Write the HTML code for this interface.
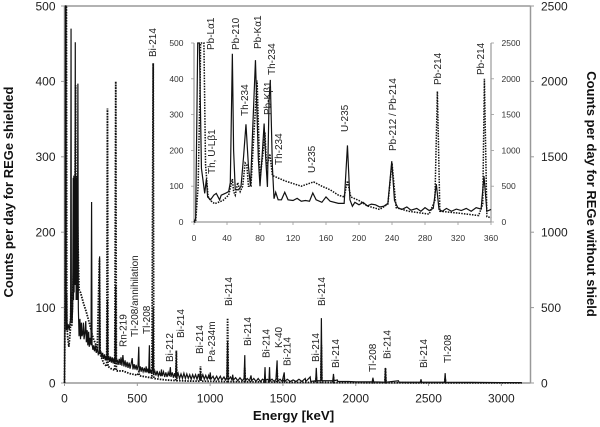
<!DOCTYPE html>
<html>
<head>
<meta charset="utf-8">
<title>Gamma spectrum</title>
<style>
html,body{margin:0;padding:0;background:#fff;}
svg{display:block;font-family:"Liberation Sans",Arial,sans-serif;}
.peak{font-size:10px;fill:#222;text-anchor:start;}
</style>
</head>
<body>
<svg id="chart" xmlns="http://www.w3.org/2000/svg" width="600" height="427" viewBox="0 0 600 427">
<rect width="600" height="427" fill="#fff"/>
<g id="axes"></g>
<g id="series"></g>
<g id="tick-text"></g>

<text transform="translate(13,192) rotate(-90)" text-anchor="middle" font-size="13" font-weight="bold" fill="#111">Counts per day for REGe shielded</text>
<text transform="translate(587,194) rotate(90)" text-anchor="middle" font-size="13" font-weight="bold" fill="#111">Counts per day for REGe without shield</text>
<text x="293.5" y="420" text-anchor="middle" font-size="13.3" font-weight="bold" fill="#111">Energy [keV]</text>

<g>
<text class="peak" transform="translate(156,57) rotate(-90)">Bi-214</text>
<text class="peak" transform="translate(126.5,347) rotate(-90)">Rn-219</text>
<text class="peak" transform="translate(138,337) rotate(-90)">Tl-208/annihilation</text>
<text class="peak" transform="translate(150,334) rotate(-90)">Tl-208</text>
<text class="peak" transform="translate(173,362) rotate(-90)">Bi-212</text>
<text class="peak" transform="translate(184,338) rotate(-90)">Bi-214</text>
<text class="peak" transform="translate(203,354) rotate(-90)">Bi-214</text>
<text class="peak" transform="translate(215,362) rotate(-90)">Pa-234m</text>
<text class="peak" transform="translate(232,306) rotate(-90)">Bi-214</text>
<text class="peak" transform="translate(251,346) rotate(-90)">Bi-214</text>
<text class="peak" transform="translate(269.5,358) rotate(-90)">Bi-214</text>
<text class="peak" transform="translate(282,348) rotate(-90)">K-40</text>
<text class="peak" transform="translate(290.5,366) rotate(-90)">Bi-214</text>
<text class="peak" transform="translate(319,362) rotate(-90)">Bi-214</text>
<text class="peak" transform="translate(325,306) rotate(-90)">Bi-214</text>
<text class="peak" transform="translate(339,368) rotate(-90)">Bi-214</text>
<text class="peak" transform="translate(376,372) rotate(-90)">Tl-208</text>
<text class="peak" transform="translate(390.5,359) rotate(-90)">Bi-214</text>
<text class="peak" transform="translate(427,368) rotate(-90)">Bi-214</text>
<text class="peak" transform="translate(451,363) rotate(-90)">Tl-208</text>
</g>

<g>
<text class="peak" transform="translate(214,50) rotate(-90)">Pb-Lα1</text>
<text class="peak" transform="translate(215,174) rotate(-90)">Th, U-Lβ1</text>
<text class="peak" transform="translate(239,50) rotate(-90)">Pb-210</text>
<text class="peak" transform="translate(248,116) rotate(-90)">Th-234</text>
<text class="peak" transform="translate(261,49) rotate(-90)">Pb-Kα1</text>
<text class="peak" transform="translate(271,115) rotate(-90)">Pb-Kβ1</text>
<text class="peak" transform="translate(275,75) rotate(-90)">Th-234</text>
<text class="peak" transform="translate(282,165) rotate(-90)">Th-234</text>
<text class="peak" transform="translate(315,173) rotate(-90)">U-235</text>
<text class="peak" transform="translate(348,132) rotate(-90)">U-235</text>
<text class="peak" transform="translate(396,151) rotate(-90)">Pb-212 / Pb-214</text>
<text class="peak" transform="translate(441,85) rotate(-90)">Pb-214</text>
<text class="peak" transform="translate(484,75) rotate(-90)">Pb-214</text>
</g>
</svg>

<script>
// ---- tick labels ----
var mainXTicks = [0, 500, 1000, 1500, 2000, 2500, 3000];
var mainLeftTicks = [0, 100, 200, 300, 400, 500];
var mainRightTicks = [0, 500, 1000, 1500, 2000, 2500];
var insetXTicks = [0, 40, 80, 120, 160, 200, 240, 280, 320, 360];
var insetLeftTicks = [0, 100, 200, 300, 400, 500];
var insetRightTicks = [0, 500, 1000, 1500, 2000, 2500];

// ---- main panel, shielded detector (left axis) ----
var mainShieldedEnergy = [
0,4,6,10,12,15,18,25,32,38,
42,45,47,52,56,60,62,64,66,68,
70,72,74,76,78,80,82,84,85,88,
90,92,95,100,106,110,116,120,126,130,
134,140,146,150,156,160,166,170,175,182,
186,189,195,200,206,212,218,225,232,238,
241,244,250,256,262,268,275,280,286,291,
295,298,304,310,316,322,328,334,340,346,
352,355,362,368,376,382,388,394,401,408,
416,422,430,436,444,450,458,465,470,478,
484,492,498,505,510,513,520,526,533,540,
548,554,561,565,572,578,583,586,592,598,
604,609,612,620,628,636,644,652,660,666,
670,680,688,696,704,712,720,727,731,740,
748,756,762,768,771,780,790,800,810,820,
830,840,850,860,870,880,890,900,910,920,
928,934,938,950,960,970,980,990,996,1001,
1005,1020,1030,1045,1055,1070,1080,1095,1105,1115,
1120,1124,1140,1150,1155,1160,1175,1190,1205,1220,
1233,1238,1241,1255,1270,1281,1285,1300,1315,1330,
1345,1360,1373,1377,1380,1392,1404,1408,1411,1425,
1440,1452,1460,1463,1480,1495,1509,1512,1530,1550,
1570,1590,1610,1630,1653,1657,1687,1691,1725,1729,
1733,1760,1764,1768,1843,1847,1851,1873,1877,1950,
2000,2050,2114,2118,2122,2200,2204,2208,2293,2297,
2444,2448,2452,2610,2614,2618,2800,3000,3140
];
var mainShieldedCounts = [
0,100,500,500,70,120,70,78,70,80,
85,470,90,80,100,272,110,275,120,270,
130,200,452,130,272,110,268,150,275,110,
250,397,100,62,85,58,80,62,66,80,
58,66,82,54,70,50,68,48,60,50,
240,52,44,50,42,50,40,46,38,40,
168,38,42,34,40,32,38,30,36,30,
110,30,36,28,35,27,34,26,33,26,
130,27,31,24,32,24,34,23,37,22,
30,21,28,20,27,19,26,33,18,25,
18,24,17,23,48,16,22,15,21,15,
20,14,22,14,19,13,50,13,18,12,
17,100,12,16,10,16,9,14,9,18,
9,15,8,14,8,14,9,21,8,14,
7,13,8,30,7,13,6,12,6,13,
6,12,6,11,5,11,6,11,5,12,
5,14,5,11,5,10,5,10,5,14,
5,9,4,9,4,9,4,8,4,8,
55,4,8,4,11,4,7,3,7,3,
6,37,3,6,3,10,3,6,2,6,
2,5,3,21,3,5,3,21,3,5,
2,5,30,2,5,2,14,2,5,2,
4,2,5,2,6,2,8,2,3,20,
3,3,86,3,3,12,3,4,2,2,
1.5,1.5,1.5,7,1.5,1,20,1,3,1,
1,5,1,1,13,1,0.8,0.6,0.5
];

// ---- main panel, unshielded detector (right axis) ----
var mainBareEnergy = [
0,4,8,10,13,16,22,30,40,46,
50,60,64,70,76,80,86,92,100,110,
130,150,170,190,200,225,240,245,270,290,
295,299,320,345,352,356,400,450,500,511,
515,550,600,609,613,660,700,764,768,772,
850,930,934,938,1000,1116,1120,1125,1234,1238,
1242,1373,1377,1381,1404,1408,1412,1456,1460,1464,
1505,1509,1513,1600,1725,1729,1733,1760,1764,1768,
1843,1847,1851,2114,2118,2122,2200,2204,2208,2444,
2448,2452,2610,2614,2618,3140
];
var mainBareCounts = [
0,500,1500,2500,2500,400,300,240,350,600,
375,700,820,800,1975,650,1250,950,620,600,
530,470,400,320,290,230,825,190,130,110,
1820,110,95,85,2000,80,80,62,52,75,
48,42,34,2120,30,24,20,16,215,16,
13,12,110,12,11,9,430,9,8,100,
8,7,40,7,7,35,7,5,90,5,
5,30,5,4,4,40,4,4,250,4,
3,40,3,2,25,2,2,100,2,1,
15,1,1,30,1,1
];

// ---- inset, shielded detector (left axis) ----
var insetShieldedEnergy = [
0,2,3.5,4.5,6.5,9,13,15,16.5,20,
24,27,31,33,38,42,44,46.5,48,50,
54,57,60,63,66,68.5,71,74.5,78,80,
83,85,87,89,91,92.5,95,97,99,102,
106,110,114,120,125,130,135,140,144,148,
155,160,165,175,182,186,189,192,195,200,
205,210,215,220,225,230,235,239.7,243,247,
252,258,263,270,275,280,285,290,293.7,297,
301,306,312,318,324,330,336,342,348,351.5,
355,360
];
var insetShieldedCounts = [
0,10,300,500,500,150,80,120,70,62,
75,80,62,75,80,85,110,470,200,90,
90,100,180,273,155,100,250,452,175,100,
200,275,175,98,340,397,155,65,83,62,
62,83,62,60,66,58,60,58,81,62,
55,70,58,52,52,214,62,44,55,48,
55,45,50,48,42,44,52,170,60,40,
35,42,33,38,30,40,32,38,106,35,
30,38,30,36,32,38,30,40,36,128,
30,35
];

// ---- inset, unshielded detector (right axis) ----
var insetBareEnergy = [
0,2,5,7.5,8,12,14,17,20,25,
35,42,45,46.5,48,50,53,56,59,62,
64,66,69,72,76.5,80,84,86,88,92,
95,97,110,130,145,155,165,175,182,186,
190,200,210,225,235,240,245,260,285,292,
295,298,320,345,350,352,355,360
];
var insetBareCounts = [
0,0,500,2000,2500,2500,800,360,300,255,
300,375,525,600,425,375,550,425,500,825,
800,500,500,1100,1975,600,1000,1250,750,950,
650,640,575,500,560,500,450,375,350,575,
350,300,225,175,250,825,200,150,110,300,
1825,150,125,90,250,2000,75,60
];

var NS = 'http://www.w3.org/2000/svg';
var axesG = document.getElementById('axes');
var seriesG = document.getElementById('series');
var textG = document.getElementById('tick-text');

function scale(d0, d1, r0, r1) {
  return function (v) { return r0 + (v - d0) * (r1 - r0) / (d1 - d0); };
}

var mainX = scale(0, 3200, 64.5, 530.5);
var mainYL = scale(0, 500, 383, 6);
var mainYR = scale(0, 2500, 383, 6);
var insetX = scale(0, 360, 194, 491);
var insetYL = scale(0, 500, 222, 43);
var insetYR = scale(0, 2500, 222, 43);

function line(x1, y1, x2, y2, color, width, name) {
  var el = document.createElementNS(NS, 'line');
  el.setAttribute('x1', x1);
  el.setAttribute('y1', y1);
  el.setAttribute('x2', x2);
  el.setAttribute('y2', y2);
  el.setAttribute('stroke', color);
  el.setAttribute('stroke-width', width);
  
  
  axesG.appendChild(el);
}

function label(x, y, str, size, anchor, color, name) {
  var el = document.createElementNS(NS, 'text');
  el.setAttribute('x', x);
  el.setAttribute('y', y);
  el.setAttribute('font-size', size);
  el.setAttribute('text-anchor', anchor);
  el.setAttribute('fill', color);
  
  
  el.textContent = str;
  textG.appendChild(el);
}

function path(xs, ys, fx, fy, dash, width, name) {
  var d = '';
  for (var i = 0; i < xs.length; i++) {
    d += (i ? 'L' : 'M') + fx(xs[i]).toFixed(2) + ' ' + fy(ys[i]).toFixed(2);
  }
  var el = document.createElementNS(NS, 'path');
  el.setAttribute('d', d);
  el.setAttribute('fill', 'none');
  el.setAttribute('stroke', '#111');
  el.setAttribute('stroke-width', width);
  if (dash) el.setAttribute('stroke-dasharray', dash);
  
  
  seriesG.appendChild(el);
}

var GREY = '#999';

// main frame
line(64.5, 6, 530.5, 6, GREY, 1.5, 'main-top-border');
line(64.5, 6, 64.5, 383, GREY, 1.5, 'main-left-axis');
line(530.5, 6, 530.5, 383, GREY, 1.5, 'main-right-axis');
line(64.5, 383, 530.5, 383, GREY, 1.5, 'main-x-axis');

mainXTicks.forEach(function (t) {
  line(mainX(t), 383, mainX(t), 386, GREY, 1, 'main-x-tick');
  label(mainX(t), 402.5, t, 12, 'middle', '#222', 'main-x-tick-label');
});
mainLeftTicks.forEach(function (t) {
  line(61, mainYL(t), 64.5, mainYL(t), GREY, 1, 'main-left-tick');
  label(55.5, mainYL(t) + 4.3, t, 12, 'end', '#222', 'main-left-tick-label');
});
mainRightTicks.forEach(function (t) {
  line(530.5, mainYR(t), 534, mainYR(t), GREY, 1, 'main-right-tick');
  label(541, mainYR(t) + 4.3, t, 12, 'start', '#222', 'main-right-tick-label');
});

// inset frame
line(194, 43, 194, 222, GREY, 1.2, 'inset-left-axis');
line(491, 43, 491, 222, GREY, 1.2, 'inset-right-axis');
line(194, 222, 491, 222, GREY, 1.2, 'inset-x-axis');

insetXTicks.forEach(function (t) {
  line(insetX(t), 222, insetX(t), 225, GREY, 0.8, 'inset-x-tick');
  label(insetX(t), 241, t, 8.5, 'middle', '#333', 'inset-x-tick-label');
});
insetLeftTicks.forEach(function (t) {
  line(191, insetYL(t), 194, insetYL(t), GREY, 0.8, 'inset-left-tick');
  label(183.5, insetYL(t) + 3, t, 8.5, 'end', '#333', 'inset-left-tick-label');
});
insetRightTicks.forEach(function (t) {
  line(491, insetYR(t), 494, insetYR(t), GREY, 0.8, 'inset-right-tick');
  label(501.5, insetYR(t) + 3, t, 8.5, 'start', '#333', 'inset-right-tick-label');
});

// series
path(mainBareEnergy, mainBareCounts, mainX, mainYR, '1.5 1.2', 1.8, 'main-unshielded-series');
path(mainShieldedEnergy, mainShieldedCounts, mainX, mainYL, null, 1.2, 'main-shielded-series');
path(insetBareEnergy, insetBareCounts, insetX, insetYR, '1.5 1.2', 1.5, 'inset-unshielded-series');
path(insetShieldedEnergy, insetShieldedCounts, insetX, insetYL, null, 1.2, 'inset-shielded-series');
</script>
</body>
</html>
